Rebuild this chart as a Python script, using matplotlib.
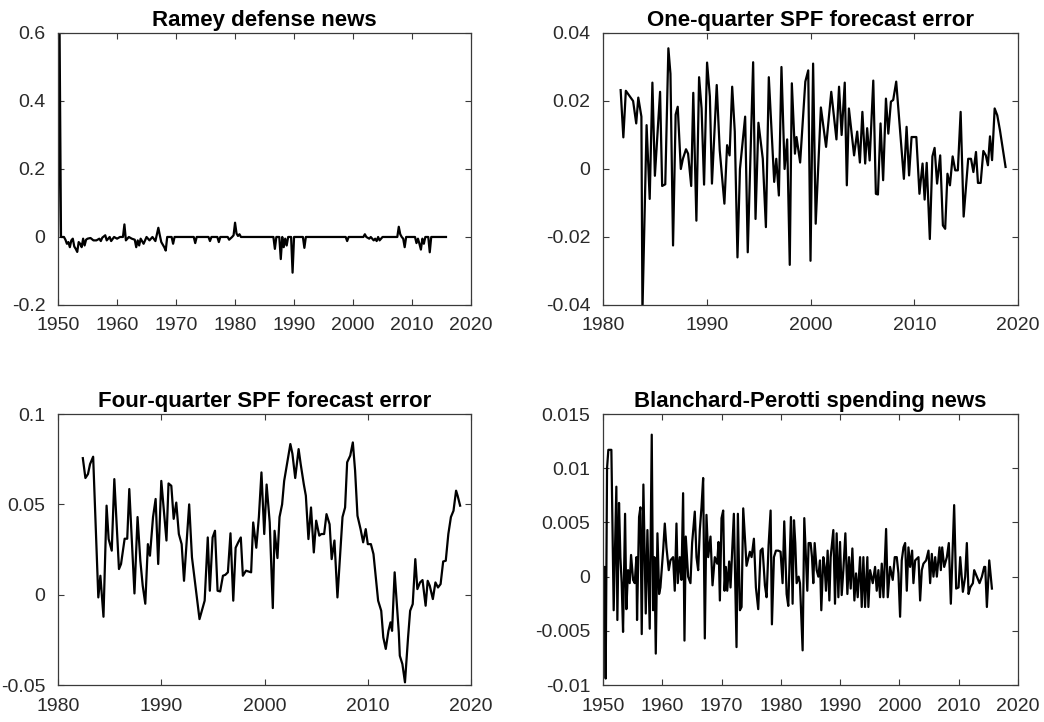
import matplotlib
matplotlib.use('Agg')
import matplotlib.pyplot as plt
import numpy as np

plt.rcParams['font.family'] = ['Liberation Sans', 'DejaVu Sans']
plt.rcParams['axes.unicode_minus'] = False

# Ramey defense news (quarterly, only the non-flat stretches listed)
ramey_years = [1950.0, 1950.25, 1950.5, 1951.0, 1951.25, 1951.5, 1951.75, 1952.0, 1952.25, 1952.5,
               1952.75, 1953.0, 1953.25, 1953.5, 1953.75, 1954.0, 1954.25, 1954.5, 1954.75, 1955.0,
               1955.5, 1956.0, 1956.5, 1957.0, 1957.25, 1957.5, 1958.0, 1958.25, 1958.75, 1959.0,
               1959.5, 1960.0, 1960.5, 1961.0, 1961.25, 1961.5, 1962.0, 1962.5, 1963.0, 1963.25,
               1963.5, 1963.75, 1964.0, 1964.5, 1965.0, 1965.5, 1966.0, 1966.5, 1967.0, 1967.25,
               1967.5, 1968.0, 1968.25, 1968.5, 1969.25, 1969.5, 1969.75, 1973.0, 1973.25, 1973.5,
               1975.5, 1975.75, 1976.0, 1977.0, 1977.25, 1977.5, 1978.75, 1979.0, 1979.5, 1979.75,
               1980.0, 1980.25, 1980.5, 1980.75, 1981.0, 1986.5, 1986.75, 1987.0, 1987.5, 1987.75,
               1988.0, 1988.25, 1988.5, 1988.75, 1989.0, 1989.5, 1989.75, 1990.0, 1991.5, 1991.75,
               1992.0, 1998.75, 1999.0, 1999.25, 2001.75, 2002.0, 2002.25, 2002.75, 2003.0, 2003.5,
               2003.75, 2004.0, 2004.25, 2004.5, 2004.75, 2005.0, 2007.5, 2007.75, 2008.0, 2008.25,
               2008.5, 2008.75, 2009.0, 2010.5, 2010.75, 2011.0, 2011.25, 2011.5, 2011.75, 2012.0,
               2012.25, 2012.75, 2013.0, 2013.25, 2015.75]
ramey_vals = [0.0, 0.63, 0.0, 0.0, -0.008, -0.02, -0.015, -0.03, -0.01, -0.005,
              -0.028, -0.035, -0.044, -0.015, -0.02, -0.03, -0.005, -0.025, -0.008, -0.005,
              -0.003, -0.01, -0.01, -0.005, -0.012, -0.002, 0.005, -0.01, 0.0, -0.012,
              0.0, -0.005, 0.0, 0.0, 0.037, -0.01, 0.0, -0.005, -0.008, -0.03,
              -0.01, -0.025, -0.005, -0.02, 0.0, -0.01, 0.0, -0.012, 0.027, 0.005,
              -0.015, -0.03, -0.04, 0.0, 0.0, -0.02, 0.0, 0.0, -0.018, 0.0,
              0.0, -0.012, 0.0, 0.0, -0.015, 0.0, 0.0, -0.008, 0.0, 0.005,
              0.042, 0.01, 0.003, 0.008, 0.0, 0.0, -0.035, 0.0, 0.0, -0.065,
              0.0, -0.03, -0.005, -0.025, 0.0, 0.0, -0.105, 0.0, 0.0, -0.032,
              0.0, 0.0, -0.012, 0.0, 0.0, 0.008, 0.0, -0.005, 0.0, -0.01,
              -0.005, -0.012, 0.0, -0.01, -0.005, 0.0, 0.0, 0.03, 0.008, 0.0,
              -0.005, -0.03, 0.0, 0.0, -0.018, -0.005, -0.02, -0.037, -0.005, -0.02,
              0.0, 0.0, -0.045, 0.0, 0.0]

# One-quarter SPF forecast error
spf1_years = [1981.7, 1981.96, 1982.2, 1982.9, 1983.2, 1983.4, 1983.7, 1983.8, 1984.2, 1984.5,
              1984.76, 1985.0, 1985.5, 1985.7, 1986.0, 1986.3, 1986.5, 1986.75, 1987.0, 1987.2,
              1987.5, 1987.7, 1988.0, 1988.2, 1988.5, 1988.7, 1989.0, 1989.26, 1989.5, 1989.74,
              1990.03, 1990.3, 1990.5, 1990.96, 1991.25, 1991.7, 1991.96, 1992.2, 1992.45, 1992.7,
              1992.96, 1993.2, 1993.7, 1993.95, 1994.47, 1994.7, 1994.98, 1995.4, 1995.7, 1995.98,
              1996.5, 1996.7, 1996.95, 1997.2, 1997.5, 1997.75, 1998.0, 1998.2, 1998.5, 1998.65,
              1999.0, 1999.5, 1999.78, 2000.0, 2000.25, 2000.5, 2001.0, 2001.5, 2002.0, 2002.5,
              2002.75, 2003.0, 2003.3, 2003.5, 2003.7, 2004.2, 2004.5, 2004.76, 2005.0, 2005.27,
              2005.46, 2005.7, 2006.05, 2006.3, 2006.5, 2006.75, 2007.0, 2007.27, 2007.5, 2007.75,
              2007.97, 2008.26, 2008.5, 2009.0, 2009.26, 2009.5, 2009.74, 2010.0, 2010.2, 2010.5,
              2010.8, 2011.0, 2011.2, 2011.5, 2011.75, 2011.96, 2012.2, 2012.5, 2012.76, 2012.98,
              2013.2, 2013.44, 2013.7, 2013.95, 2014.2, 2014.47, 2014.76, 2015.2, 2015.47, 2015.7,
              2015.95, 2016.14, 2016.4, 2016.66, 2016.9, 2017.1, 2017.3, 2017.5, 2017.75, 2018.0,
              2018.26, 2018.8]
spf1_vals = [0.0232, 0.0093, 0.023, 0.020, 0.0134, 0.021, 0.0154, -0.042, 0.0129, -0.0088,
             0.0254, -0.002, 0.0227, -0.005, -0.0045, 0.0355, 0.028, -0.0225, 0.016, 0.0183,
             0.0, 0.003, 0.0058, 0.0045, -0.005, 0.0224, -0.0152, 0.027, 0.0178, -0.0046,
             0.0313, 0.0213, -0.0043, 0.0247, 0.0055, -0.0102, 0.007, 0.004, 0.0242, 0.011,
             -0.026, 0.0, 0.0154, -0.0245, 0.0314, -0.0147, 0.0136, 0.003, -0.0171, 0.027,
             -0.0038, 0.003, -0.0078, 0.030, 0.0, 0.0087, -0.0282, 0.0252, 0.0045, 0.0094,
             0.0019, 0.0257, 0.029, -0.027, 0.031, -0.0161, 0.0181, 0.0065, 0.0227, 0.0087,
             0.0242, 0.010, 0.0254, -0.0048, 0.0178, 0.004, 0.011, 0.0019, 0.0168, 0.0016,
             0.012, 0.0025, 0.026, -0.0073, -0.0075, 0.0134, -0.0033, 0.0207, 0.0104, 0.0198,
             0.0203, 0.0257, 0.0163, -0.0029, 0.0124, -0.0019, 0.0094, 0.0094, 0.0094, -0.0073,
             0.0016, -0.009, 0.0018, -0.0206, 0.0037, 0.0062, -0.0043, 0.004, -0.0166, -0.0176,
             -0.0014, -0.0048, 0.0037, -0.0004, -0.0004, 0.0168, -0.014, 0.003, 0.003, -0.0009,
             0.005, -0.0041, -0.0041, 0.0053, 0.004, 0.0011, 0.0096, 0.0026, 0.0178, 0.0158,
             0.0114, 0.0006]

# Four-quarter SPF forecast error
spf4_years = [1982.4, 1982.65, 1982.9, 1983.1, 1983.4, 1983.9, 1984.1, 1984.4, 1984.7, 1984.9,
              1985.2, 1985.45, 1985.9, 1986.1, 1986.45, 1986.7, 1986.9, 1987.4, 1987.7, 1987.97,
              1988.2, 1988.45, 1988.7, 1988.9, 1989.2, 1989.45, 1989.7, 1990.0, 1990.2, 1990.5,
              1990.7, 1990.97, 1991.2, 1991.45, 1991.7, 1991.97, 1992.2, 1992.7, 1992.97, 1993.7,
              1994.2, 1994.5, 1994.7, 1994.97, 1995.2, 1995.45, 1995.7, 1995.97, 1996.2, 1996.45,
              1996.7, 1996.97, 1997.2, 1997.45, 1997.7, 1997.9, 1998.2, 1998.7, 1998.9, 1999.2,
              1999.45, 1999.7, 1999.97, 2000.2, 2000.5, 2000.8, 2000.97, 2001.25, 2001.45, 2001.7,
              2001.9, 2002.5, 2002.7, 2002.97, 2003.3, 2003.5, 2003.8, 2004.0, 2004.25, 2004.5,
              2004.77, 2005.0, 2005.3, 2005.5, 2005.77, 2006.0, 2006.3, 2006.5, 2006.77, 2007.06,
              2007.55, 2007.8, 2008.0, 2008.3, 2008.55, 2008.77, 2009.0, 2009.3, 2009.55, 2009.8,
              2010.0, 2010.3, 2010.55, 2011.0, 2011.3, 2011.5, 2011.74, 2012.0, 2012.2, 2012.35,
              2012.6, 2013.0, 2013.1, 2013.35, 2013.6, 2013.9, 2014.1, 2014.35, 2014.6, 2014.8,
              2015.06, 2015.3, 2015.6, 2015.8, 2016.0, 2016.3, 2016.55, 2016.8, 2017.05, 2017.3,
              2017.55, 2017.8, 2018.05, 2018.3, 2018.55, 2018.7, 2018.94]
spf4_vals = [0.0756, 0.0646, 0.0668, 0.0723, 0.0764, -0.0015, 0.0105, -0.0122, 0.0493, 0.0308,
             0.0244, 0.064, 0.0142, 0.017, 0.031, 0.031, 0.0585, 0.0007, 0.043, 0.0188,
             0.005, -0.005, 0.028, 0.0216, 0.043, 0.053, 0.017, 0.063, 0.050, 0.030,
             0.0616, 0.0603, 0.042, 0.051, 0.0336, 0.028, 0.0077, 0.050, 0.0207, -0.0135,
             -0.0033, 0.0317, 0.0022, 0.0317, 0.0354, 0.0022, 0.0018, 0.0105, 0.011, 0.0124,
             0.034, -0.0033, 0.026, 0.029, 0.0317, 0.0105, 0.0133, 0.0124, 0.040, 0.026,
             0.043, 0.0677, 0.0336, 0.061, 0.040, -0.0074, 0.0354, 0.0203, 0.043, 0.050,
             0.063, 0.0834, 0.078, 0.0646, 0.0806, 0.0723, 0.0612, 0.0548, 0.0308, 0.0483,
             0.0234, 0.041, 0.0327, 0.0336, 0.0336, 0.0446, 0.039, 0.0197, 0.030, -0.0015,
             0.043, 0.0483, 0.0733, 0.077, 0.0843, 0.0686, 0.0437, 0.0363, 0.029, 0.0363,
             0.028, 0.028, 0.0225, -0.0033, -0.0089, -0.0236, -0.030, -0.020, -0.0153, -0.020,
             0.0124, -0.0208, -0.0338, -0.0384, -0.0485, -0.0236, -0.0089, -0.0052, 0.0197, 0.0031,
             0.0068, 0.0081, -0.0061, 0.0077, 0.005, -0.0024, 0.0068, 0.004, 0.0059, 0.0184,
             0.0188, 0.0336, 0.043, 0.0465, 0.0576, 0.0548, 0.0493]

# Blanchard-Perotti spending news
bp_years = [1950.0, 1950.28, 1950.45, 1950.68, 1950.9, 1951.41, 1951.8, 1952.25, 1952.42, 1952.7,
            1952.93, 1953.15, 1953.38, 1953.72, 1953.94, 1954.22, 1954.5, 1954.73, 1955.07, 1955.35,
            1955.63, 1955.74, 1956.08, 1956.31, 1956.53, 1956.81, 1957.04, 1957.21, 1957.49, 1957.88,
            1958.22, 1958.45, 1958.67, 1958.9, 1959.18, 1959.46, 1959.68, 1960.14, 1960.42, 1960.7,
            1961.09, 1961.37, 1961.82, 1962.1, 1962.39, 1962.61, 1962.95, 1963.23, 1963.51, 1963.74,
            1963.96, 1964.36, 1964.75, 1965.03, 1965.48, 1965.77, 1966.05, 1966.33, 1966.61, 1966.89,
            1967.17, 1967.45, 1967.74, 1968.13, 1968.47, 1968.86, 1969.26, 1969.48, 1969.71, 1969.99,
            1970.27, 1970.5, 1970.72, 1970.95, 1971.28, 1971.51, 1972.07, 1972.52, 1972.75, 1973.09,
            1973.37, 1973.65, 1974.21, 1974.77, 1975.06, 1975.45, 1975.79, 1976.18, 1976.58, 1976.91,
            1977.31, 1977.59, 1977.93, 1978.27, 1978.49, 1978.83, 1979.17, 1979.56, 1979.95, 1980.29,
            1980.57, 1980.97, 1981.25, 1981.7, 1981.98, 1982.21, 1982.43, 1982.66, 1983.0, 1983.22,
            1983.67, 1983.95, 1984.23, 1984.46, 1984.68, 1985.02, 1985.25, 1985.47, 1985.7, 1986.04,
            1986.32, 1986.6, 1986.82, 1987.16, 1987.39, 1987.61, 1987.89, 1988.18, 1988.4, 1988.85,
            1989.13, 1989.41, 1989.7, 1989.98, 1990.26, 1990.54, 1990.88, 1991.22, 1991.5, 1991.78,
            1992.06, 1992.4, 1992.68, 1992.96, 1993.36, 1993.64, 1993.92, 1994.2, 1994.59, 1994.76,
            1995.05, 1995.5, 1995.89, 1996.17, 1996.45, 1996.73, 1997.02, 1997.3, 1997.75, 1998.03,
            1998.42, 1998.87, 1999.21, 1999.55, 1999.83, 2000.11, 2000.39, 2000.68, 2000.96, 2001.24,
            2001.52, 2001.8, 2002.14, 2002.36, 2002.65, 2003.21, 2003.49, 2003.77, 2004.05, 2004.5,
            2004.9, 2005.18, 2005.46, 2005.74, 2006.03, 2006.31, 2006.76, 2006.98, 2007.21, 2007.55,
            2008.0, 2008.33, 2008.67, 2009.23, 2009.57, 2009.97, 2010.25, 2010.7, 2011.09, 2011.37,
            2011.66, 2011.94, 2012.39, 2012.61, 2013.06, 2013.51, 2013.91, 2014.3, 2014.47, 2014.75,
            2015.15, 2015.6]
bp_vals = [-0.00265, 0.0009, -0.0094, 0.0100, 0.0117, 0.0117, -0.0031, 0.0083, -0.0040, 0.0068,
           0.0018, -0.0006, -0.0051, 0.0058, -0.0030, 0.0006, -0.0006, 0.0020, -0.0003, -0.0006,
           0.0018, -0.0040, 0.0055, 0.0064, -0.0053, 0.0085, 0.0018, -0.0034, 0.0043, -0.0048,
           0.0131, -0.0031, 0.0018, -0.0071, 0.0040, -0.0016, -0.0010, 0.0024, 0.0049, 0.0027,
           0.0006, 0.0015, 0.0018, -0.0013, 0.0049, -0.0006, 0.0018, -0.0003, 0.0077, -0.0059,
           0.0037, 0.0, -0.0006, 0.0031, 0.0060, 0.0018, 0.0006, 0.0043, 0.0064, 0.0091,
           -0.0057, 0.0057, 0.0018, 0.0037, -0.0008, 0.0018, 0.0012, 0.0032, -0.0022, 0.0054,
           0.0061, -0.0013, 0.0009, -0.0013, 0.0014, -0.0010, 0.0058, -0.0065, 0.0058, -0.0031,
           -0.0028, 0.0063, 0.0010, 0.0023, 0.0018, 0.0035, -0.0010, -0.0030, 0.0024, 0.0026,
           -0.0008, -0.0019, 0.0029, 0.0061, -0.0044, 0.0018, 0.0024, 0.0024, 0.0023, -0.0006,
           0.0051, -0.0016, -0.0027, 0.0055, -0.0025, 0.0052, 0.0031, -0.0006, 0.0, -0.0006,
           -0.0068, 0.0054, 0.0018, -0.0013, 0.0031, 0.0031, 0.0018, -0.0006, 0.0031, 0.0006,
           0.0, 0.0015, -0.0031, 0.0018, 0.0009, -0.0013, 0.0024, -0.0022, 0.0018, 0.0043,
           -0.0025, 0.0040, -0.0019, 0.0032, -0.0017, 0.0006, 0.0040, -0.0016, 0.0018, -0.0011,
           0.0026, -0.0022, 0.0003, -0.0019, 0.0018, -0.0028, 0.0018, -0.0028, 0.0018, -0.0028,
           0.0006, -0.0006, 0.0009, -0.0013, 0.0006, -0.0019, 0.0012, -0.0019, 0.0044, -0.0019,
           0.0009, -0.0003, 0.0018, 0.0018, 0.0003, -0.0037, 0.0015, 0.0027, 0.0031, -0.0013,
           0.0027, 0.0009, 0.0024, -0.0006, 0.0015, 0.0018, -0.0022, 0.0006, 0.0012, 0.0015,
           0.0024, -0.0006, 0.0021, 0.0, 0.0018, 0.0, 0.0027, 0.0006, 0.0027, 0.0009,
           0.0018, 0.0031, -0.0025, 0.0066, -0.0011, -0.0010, 0.0018, -0.0014, 0.0, 0.0031,
           -0.0016, -0.0010, -0.0006, 0.0006, 0.0, -0.0006, 0.0, 0.0009, 0.0009, -0.0028,
           0.0015, -0.0011]

panels = [
    ('Ramey defense news', ramey_years, ramey_vals, (1950, 2020), (-0.2, 0.6),
     [1950, 1960, 1970, 1980, 1990, 2000, 2010, 2020], [-0.2, 0, 0.2, 0.4, 0.6]),
    ('One-quarter SPF forecast error', spf1_years, spf1_vals, (1980, 2020), (-0.04, 0.04),
     [1980, 1990, 2000, 2010, 2020], [-0.04, -0.02, 0, 0.02, 0.04]),
    ('Four-quarter SPF forecast error', spf4_years, spf4_vals, (1980, 2020), (-0.05, 0.1),
     [1980, 1990, 2000, 2010, 2020], [-0.05, 0, 0.05, 0.1]),
    ('Blanchard-Perotti spending news', bp_years, bp_vals, (1950, 2020), (-0.01, 0.015),
     [1950, 1960, 1970, 1980, 1990, 2000, 2010, 2020], [-0.01, -0.005, 0, 0.005, 0.01, 0.015]),
]

# axes boxes in figure fractions: left, bottom, width, height
boxes = [
    [0.0556, 0.5776, 0.3956, 0.3767],
    [0.5776, 0.5776, 0.3975, 0.3767],
    [0.0556, 0.0512, 0.3956, 0.3753],
    [0.5776, 0.0512, 0.3975, 0.3753],
]

fig = plt.figure(figsize=(10.44, 7.22), dpi=100)
edge = '#3a3a3a'
for (title, xs, ys, xlim, ylim, xt, yt), box in zip(panels, boxes):
    ax = fig.add_axes(box)
    ax.plot(xs, ys, color='black', linewidth=1.6)
    ax.set_xlim(*xlim)
    ax.set_ylim(*ylim)
    ax.set_xticks(xt)
    ax.set_yticks(yt)
    ax.set_xticklabels([str(v) for v in xt])
    ax.set_yticklabels(['%g' % v for v in yt])
    ax.tick_params(direction='in', length=4, width=0.8, top=True, right=True,
                   labelsize=14, colors=edge, labelcolor='#2a2a2a')
    ax.tick_params(axis='x', pad=9)
    ax.tick_params(axis='y', pad=9)
    for s in ax.spines.values():
        s.set_color(edge)
        s.set_linewidth(0.9)
    ax.set_title(title, fontsize=16, fontweight='bold', pad=5)

fig.savefig('out.png', dpi=100, facecolor='white')
